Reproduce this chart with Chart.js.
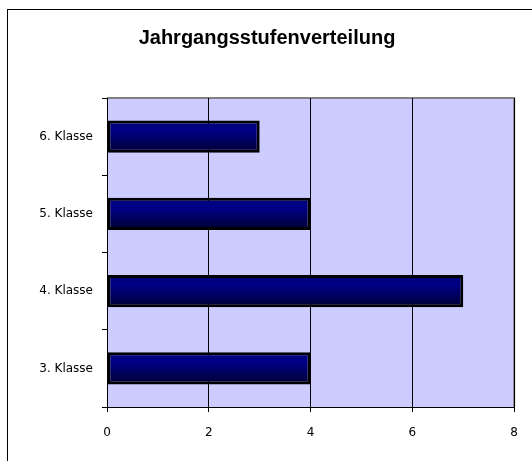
<!DOCTYPE html>
<html>
<head>
<meta charset="utf-8">
<script src="https://cdn.jsdelivr.net/npm/chart.js@4/dist/chart.umd.min.js"></script>
<style>
  html, body { margin: 0; padding: 0; background: #fff; overflow: hidden; }
  #wrap { position: relative; width: 532px; height: 461px; }
  #frame { position: absolute; left: 7px; top: 9px; width: 700px; height: 700px; border: 1px solid #000; }
  canvas { position: absolute; left: 0; top: 0; }
</style>
</head>
<body>
<div id="wrap">
  <div id="frame"></div>
  <canvas id="myChart" width="532" height="461"></canvas>
</div>
<script>
/* data, bottom to top */
const categories = ['3. Klasse', '4. Klasse', '5. Klasse', '6. Klasse'];
const values = [4, 7, 4, 3];
const xTicks = [0, 2, 4, 6, 8];
const chartTitle = 'Jahrgangsstufenverteilung';

const BAR_PCT = 0.415;

// lavender plot area with grey frame
const plotBackground = {
  id: 'plotBackground',
  beforeDraw(chart) {
    const { ctx, chartArea: a } = chart;
    ctx.save();
    ctx.fillStyle = '#ccccff';
    ctx.fillRect(a.left, a.top, a.right - a.left, a.bottom - a.top);
    ctx.strokeStyle = '#808080';
    ctx.lineWidth = 2;
    ctx.beginPath();
    ctx.moveTo(a.left, a.top);
    ctx.lineTo(a.right, a.top);
    ctx.lineTo(a.right, a.bottom);
    ctx.stroke();
    ctx.restore();
  }
};

// title sits a bit right of the middle, like the original
const titleText = {
  id: 'titleText',
  afterDraw(chart) {
    const ctx = chart.ctx;
    ctx.save();
    ctx.font = 'bold 20px "Liberation Sans"';
    ctx.fillStyle = '#000';
    ctx.textAlign = 'center';
    ctx.textBaseline = 'alphabetic';
    ctx.fillText(chartTitle, 267, 44);
    ctx.restore();
  }
};

// vertical shading of each bar
const barFill = function (context) {
  const chart = context.chart;
  const area = chart.chartArea;
  if (!area) return '#000080';
  const yScale = chart.scales.y;
  const center = yScale.getPixelForValue(context.dataIndex);
  const half = (area.bottom - area.top) / categories.length * BAR_PCT / 2;
  const g = chart.ctx.createLinearGradient(0, center - half, 0, center + half);
  g.addColorStop(0, '#000078');
  g.addColorStop(0.3, '#000088');
  g.addColorStop(1, '#000030');
  return g;
};

const ctx = document.getElementById('myChart');

new Chart(ctx, {
  type: 'bar',
  data: {
    labels: categories,
    datasets: [{
      data: values,
      backgroundColor: barFill,
      borderColor: '#000000',
      borderWidth: 3,
      borderSkipped: false,
      barPercentage: BAR_PCT,
      categoryPercentage: 1
    }]
  },
  options: {
    indexAxis: 'y',
    responsive: false,
    animation: false,
    layout: {
      padding: { top: 98, right: 16, left: 0, bottom: 0 }
    },
    scales: {
      x: {
        min: 0,
        max: 8,
        afterBuildTicks: (scale) => {
          scale.ticks = xTicks.map(v => ({ value: v }));
        },
        afterFit: (scale) => { scale.height = 54; },
        grid: {
          color: '#000000',
          lineWidth: 1,
          tickLength: 5,
          drawTicks: true
        },
        border: { color: '#000000', width: 1 },
        ticks: {
          color: '#000000',
          padding: 14,
          font: { family: 'DejaVu Sans', size: 12 }
        }
      },
      y: {
        reverse: true,
        afterFit: (scale) => { scale.width = 107; },
        grid: {
          offset: true,
          drawOnChartArea: false,
          color: '#000000',
          tickLength: 5
        },
        border: { color: '#000000', width: 1 },
        ticks: {
          color: '#000000',
          padding: 9,
          font: { family: 'DejaVu Sans', size: 12 }
        }
      }
    },
    plugins: {
      legend: { display: false },
      tooltip: { enabled: false },
      title: { display: false }
    }
  },
  plugins: [plotBackground, titleText]
});
</script>
</body>
</html>
